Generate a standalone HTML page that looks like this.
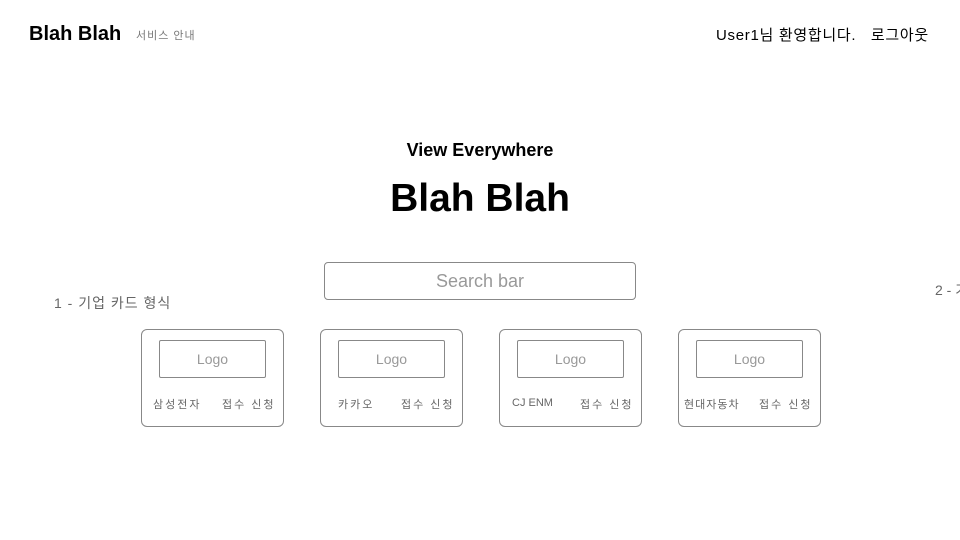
<!DOCTYPE html>
<html><head><meta charset="utf-8"><style>
body{margin:0;width:960px;height:540px;background:#fff;position:relative;overflow:hidden;font-family:"Liberation Sans","Noto Sans CJK KR",sans-serif;}
.a{position:absolute;white-space:nowrap;}
.card{position:absolute;top:329px;width:143px;height:98px;border:1px solid #888;border-radius:6px;box-sizing:border-box;}
.logo{position:absolute;left:17px;top:10px;width:107px;height:38px;border:1px solid #888;border-radius:2px;box-sizing:border-box;color:#999;font-size:14px;text-align:center;line-height:36px;}
.n{position:absolute;top:66px;font-size:11px;color:#666;letter-spacing:2px;}
</style></head><body>
<div class="a" style="left:29px;top:23px;font-size:20px;font-weight:bold;">Blah Blah</div>
<div class="a" style="left:136px;top:27px;font-size:11px;color:#777;letter-spacing:1px;">서비스 안내</div>
<div class="a" style="left:716px;top:24px;font-size:15px;letter-spacing:0.7px;">User1님 환영합니다.&nbsp;&nbsp;&nbsp;로그아웃</div>
<div class="a" style="left:0;width:960px;text-align:center;top:140px;font-size:18px;font-weight:bold;">View Everywhere</div>
<div class="a" style="left:0;width:960px;text-align:center;top:177px;font-size:39px;font-weight:bold;">Blah Blah</div>
<div class="a" style="left:324px;top:262px;width:312px;height:38px;border:1px solid #888;border-radius:4px;box-sizing:border-box;text-align:center;line-height:36px;font-size:18px;color:#999;">Search bar</div>
<div class="a" style="left:54px;top:293px;font-size:14px;color:#666;letter-spacing:1px;">1 - 기업 카드 형식</div>
<div class="a" style="left:935px;top:280px;font-size:14px;color:#666;">2 - 기</div>
<div class="card" style="left:141px"><div class="logo">Logo</div><div class="n" style="left:11px">삼성전자</div><div class="n" style="left:80px">접수 신청</div></div>
<div class="card" style="left:320px"><div class="logo">Logo</div><div class="n" style="left:17px">카카오</div><div class="n" style="left:80px">접수 신청</div></div>
<div class="card" style="left:499px"><div class="logo">Logo</div><div class="n" style="left:12px;letter-spacing:0;top:67px">CJ ENM</div><div class="n" style="left:80px">접수 신청</div></div>
<div class="card" style="left:678px"><div class="logo">Logo</div><div class="n" style="left:5px;letter-spacing:1px">현대자동차</div><div class="n" style="left:80px">접수 신청</div></div>
</body></html>
